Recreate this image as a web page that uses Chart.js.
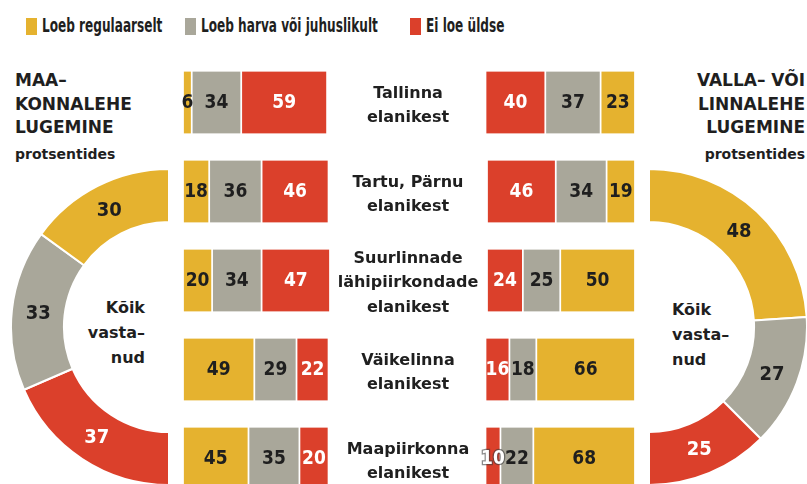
<!DOCTYPE html>
<html>
<head>
<meta charset="utf-8">
<script src="https://cdn.jsdelivr.net/npm/chart.js@4.4.1/dist/chart.umd.min.js"></script>
<style>
html, body { margin: 0; padding: 0; overflow: hidden; }
body { width: 807px; height: 484px; position: relative; background: #fff; color: #1f1f1f; font-family: "DejaVu Sans", sans-serif; }
.box { position: absolute; }
.sw { position: absolute; top: 18px; width: 11px; height: 17px; }
.lg { position: absolute; top: 14px; line-height: 24px; white-space: nowrap; font-family: "DejaVu Sans Condensed", "DejaVu Sans", sans-serif; font-weight: bold; font-size: 19.5px; transform: scaleX(0.69); transform-origin: left center; }
.title { position: absolute; top: 69px; font-weight: bold; font-size: 17px; line-height: 23.5px; }
.sub { position: absolute; top: 144px; font-weight: bold; font-size: 14px; line-height: 20px; }
.all { position: absolute; top: 295px; font-weight: bold; font-size: 16px; line-height: 25px; }
.cat { position: absolute; left: 330px; width: 156px; text-align: center; font-weight: bold; font-size: 16px; line-height: 24.5px; transform: translateY(-50%); }
</style>
</head>
<body>

<div class="title" style="left:15px">MAA–<br>KONNALEHE<br>LUGEMINE</div>
<div class="sub" style="left:15px">protsentides</div>
<div class="title" style="right:2px;text-align:right">VALLA– VÕI<br>LINNALEHE<br>LUGEMINE</div>
<div class="sub" style="right:2px;text-align:right">protsentides</div>

<div class="all" style="right:662px;text-align:right">Kõik<br>vasta–<br>nud</div>
<div class="all" style="left:672px;top:297px">Kõik<br>vasta–<br>nud</div>

<div class="box" style="left:173px;top:58px;width:157px;height:445px"><canvas id="barsL"></canvas></div>
<div class="box" style="left:474px;top:58px;width:161px;height:445px"><canvas id="barsR"></canvas></div>
<div class="box" style="left:10px;top:168px;width:160px;height:318px"><canvas id="ringL"></canvas></div>
<div class="box" style="left:648px;top:168px;width:160px;height:318px"><canvas id="ringR"></canvas></div>

<script>
var series = ['Loeb regulaarselt', 'Loeb harva või juhuslikult', 'Ei loe üldse'];
var colors = ['#e5b22f', '#a9a79a', '#db402b'];
var groups = [
    ['Tallinna', 'elanikest'],
    ['Tartu, Pärnu', 'elanikest'],
    ['Suurlinnade', 'lähipiirkondade', 'elanikest'],
    ['Väikelinna', 'elanikest'],
    ['Maapiirkonna', 'elanikest']
];

// maakonnaleht (left)
var regularL = [6, 18, 20, 49, 45];
var rareL = [34, 36, 34, 29, 35];
var neverL = [59, 46, 47, 22, 20];
var allL = [30, 33, 37];

// valla- või linnaleht (right)
var regularR = [23, 19, 50, 66, 68];
var rareR = [37, 34, 25, 18, 22];
var neverR = [40, 46, 24, 16, 10];
var allR = [48, 27, 25];

var dark = '#1f1f1f';
var numFont = 'bold 19px "DejaVu Sans Condensed", "DejaVu Sans", sans-serif';

// legend, placed like the printed one
var legendX = [26, 185, 410];
series.forEach(function(name, i) {
    var sw = document.createElement('div');
    sw.className = 'sw';
    sw.style.left = legendX[i] + 'px';
    sw.style.background = colors[i];
    document.body.appendChild(sw);
    var t = document.createElement('div');
    t.className = 'lg';
    t.style.left = (legendX[i] + 16) + 'px';
    t.textContent = name;
    document.body.appendChild(t);
});

var barLabels = {
    id: 'barLabels',
    afterDatasetsDraw: function(chart) {
        var ctx = chart.ctx;
        ctx.save();
        ctx.font = numFont;
        ctx.textAlign = 'center';
        ctx.textBaseline = 'middle';
        chart.data.datasets.forEach(function(ds, i) {
            chart.getDatasetMeta(i).data.forEach(function(bar, j) {
                var txt = String(ds.data[j]);
                var w = Math.abs(bar.x - bar.base);
                var cx = (bar.x + bar.base) / 2;
                var white = ds.backgroundColor === colors[2];
                if (white && ctx.measureText(txt).width > w) {
                    ctx.lineWidth = 2.5;
                    ctx.strokeStyle = 'rgba(60,60,60,0.6)';
                    ctx.strokeText(txt, cx, bar.y + 1);
                }
                ctx.fillStyle = white ? '#fff' : dark;
                ctx.fillText(txt, cx, bar.y + 1);
            });
        });
        ctx.restore();
    }
};

var ringLabels = {
    id: 'ringLabels',
    afterDatasetsDraw: function(chart) {
        var ctx = chart.ctx;
        var ds = chart.data.datasets[0];
        ctx.save();
        ctx.font = 'bold 20px "DejaVu Sans Condensed", "DejaVu Sans", sans-serif';
        ctx.textAlign = 'center';
        ctx.textBaseline = 'middle';
        chart.getDatasetMeta(0).data.forEach(function(arc, j) {
            var p = arc.getCenterPoint();
            ctx.fillStyle = ds.backgroundColor[j] === colors[2] ? '#fff' : dark;
            ctx.fillText(ds.data[j], p.x, p.y + 1);
        });
        ctx.restore();
    }
};

function barChart(id, values, reverse) {
    return new Chart(document.getElementById(id), {
        type: 'bar',
        data: {
            labels: groups,
            datasets: values.map(function(v, i) {
                return {
                    label: series[i],
                    data: v,
                    backgroundColor: colors[i],
                    borderColor: '#fff',
                    borderWidth: { left: 1.2, right: 1.2, top: 0, bottom: 0 },
                    borderSkipped: false,
                    barThickness: 62
                };
            })
        },
        options: {
            indexAxis: 'y',
            maintainAspectRatio: false,
            responsive: true,
            animation: false,
            layout: { padding: { left: 10, right: 0, top: 0, bottom: 0 } },
            scales: {
                x: { stacked: true, display: false, min: 0, max: 101, reverse: reverse },
                y: { stacked: true, display: false }
            },
            plugins: { legend: { display: false }, tooltip: { enabled: false } }
        },
        plugins: [barLabels]
    });
}

function ringChart(id, values, cols, rotation) {
    return new Chart(document.getElementById(id), {
        type: 'doughnut',
        data: {
            labels: series,
            datasets: [{
                data: values,
                backgroundColor: cols,
                borderColor: '#fff',
                borderWidth: 2
            }]
        },
        options: {
            maintainAspectRatio: false,
            responsive: true,
            animation: false,
            rotation: rotation,
            circumference: 180,
            cutout: '66.5%',
            plugins: { legend: { display: false }, tooltip: { enabled: false } }
        },
        plugins: [ringLabels]
    });
}

var chartL = barChart('barsL', [regularL, rareL, neverL], false);
var chartR = barChart('barsR', [regularR, rareR, neverR], true);

// left half starts at the bottom and runs clockwise, so order is reversed
ringChart('ringL', allL.slice().reverse(), colors.slice().reverse(), 180);
ringChart('ringR', allR, colors, 0);

// category labels in the middle, placed on the bar rows
groups.forEach(function(lines, i) {
    var d = document.createElement('div');
    d.className = 'cat';
    d.style.top = (58 + chartL.scales.y.getPixelForValue(i) + 2) + 'px';
    d.innerHTML = lines.join('<br>');
    document.body.appendChild(d);
});
</script>
</body>
</html>
